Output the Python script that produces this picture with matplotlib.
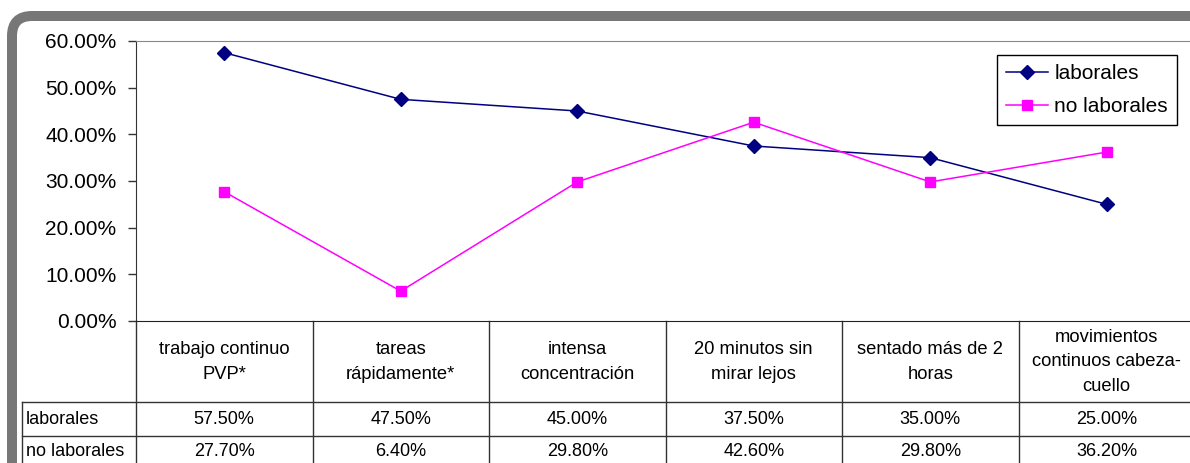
import numpy as np
import matplotlib.pyplot as plt
from matplotlib.patches import FancyBboxPatch

plt.rcParams['font.family'] = ['Liberation Sans', 'DejaVu Sans']

categorias = ['trabajo continuo\nPVP*', 'tareas\nrápidamente*', 'intensa\nconcentración',
              '20 minutos sin\nmirar lejos', 'sentado más de 2\nhoras',
              'movimientos\ncontinuos cabeza-\ncuello']
laborales = [57.5, 47.5, 45.0, 37.5, 35.0, 25.0]
no_laborales = [27.7, 6.4, 29.8, 42.6, 29.8, 36.2]
series = ['laborales', 'no laborales']
yticks = [0, 10, 20, 30, 40, 50, 60]

W, H = 1190, 463
fig = plt.figure(figsize=(W / 100, H / 100), dpi=100)

# gray rounded frame (display pixels), kept behind the axes
frame = FancyBboxPatch((12, -60), 1500, 447 + 60, boxstyle='round,pad=0,rounding_size=20',
                       transform=None, facecolor='white', edgecolor='#777777', linewidth=7.2,
                       zorder=-5)
fig.patches.append(frame)

# plot area in pixel coords
left, right, top, bottom = 136, 1195, 41, 321
ax = fig.add_axes([left / W, 1 - bottom / H, (right - left) / W, (bottom - top) / H])
ax.set_zorder(2)
ax.patch.set_alpha(0)

x = np.arange(len(categorias)) + 0.5
ax.plot(x, laborales, color='#000080', marker='D', markersize=7, linewidth=1.1, label=series[0])
ax.plot(x, no_laborales, color='#FF00FF', marker='s', markersize=7, linewidth=1.1, label=series[1])

ax.set_xlim(0, len(categorias))
ax.set_ylim(0, 60)
ax.set_yticks(yticks)
ax.set_yticklabels(['%.2f%%' % v for v in yticks], fontsize=15)
ax.set_xticks([])
ax.tick_params(axis='y', direction='out', length=6, width=1, color='#333333', pad=8)
ax.spines['left'].set_color('#333333')
ax.spines['bottom'].set_color('#222222')
ax.spines['top'].set_color('#888888')
ax.spines['right'].set_visible(False)

# data table under the axis
tr = ax.get_xaxis_transform()
px = 1.0 / (bottom - top)
y_head = -(402 - bottom) * px
y_row1 = -(436 - bottom) * px
y_end = -(480 - bottom) * px
x_lab = (22 - left) / ((right - left) / len(categorias))
lc = '#333333'
for i in range(len(categorias) + 1):
    ax.plot([i, i], [0, y_end], transform=tr, color=lc, lw=1, clip_on=False)
ax.plot([x_lab, x_lab], [y_head, y_end], transform=tr, color=lc, lw=1, clip_on=False)
for yy in (y_head, y_row1):
    ax.plot([x_lab, len(categorias) + 0.1], [yy, yy], transform=tr, color=lc, lw=1, clip_on=False)

for i, c in enumerate(categorias):
    ax.text(i + 0.5, -(362 - bottom) * px, c, transform=tr, ha='center', va='center',
            fontsize=13.2, linespacing=1.6)
    ax.text(i + 0.5, -(419 - bottom) * px, '%.2f%%' % laborales[i], transform=tr,
            ha='center', va='center', fontsize=13)
    ax.text(i + 0.5, -(452 - bottom) * px, '%.2f%%' % no_laborales[i], transform=tr,
            ha='center', va='center', fontsize=13)
ax.text(x_lab + 0.02, -(419 - bottom) * px, series[0], transform=tr, ha='left', va='center', fontsize=13)
ax.text(x_lab + 0.02, -(452 - bottom) * px, series[1], transform=tr, ha='left', va='center', fontsize=13)

leg = ax.legend(loc='upper left', bbox_to_anchor=(997 / W, 1 - 55 / H), bbox_transform=fig.transFigure,
                borderaxespad=0, fontsize=15, handlelength=2.0, handletextpad=0.3,
                labelspacing=0.65, borderpad=0.45, fancybox=False, framealpha=1)
leg.get_frame().set_edgecolor('black')
leg.get_frame().set_linewidth(1)

fig.savefig('out.png', dpi=100)
